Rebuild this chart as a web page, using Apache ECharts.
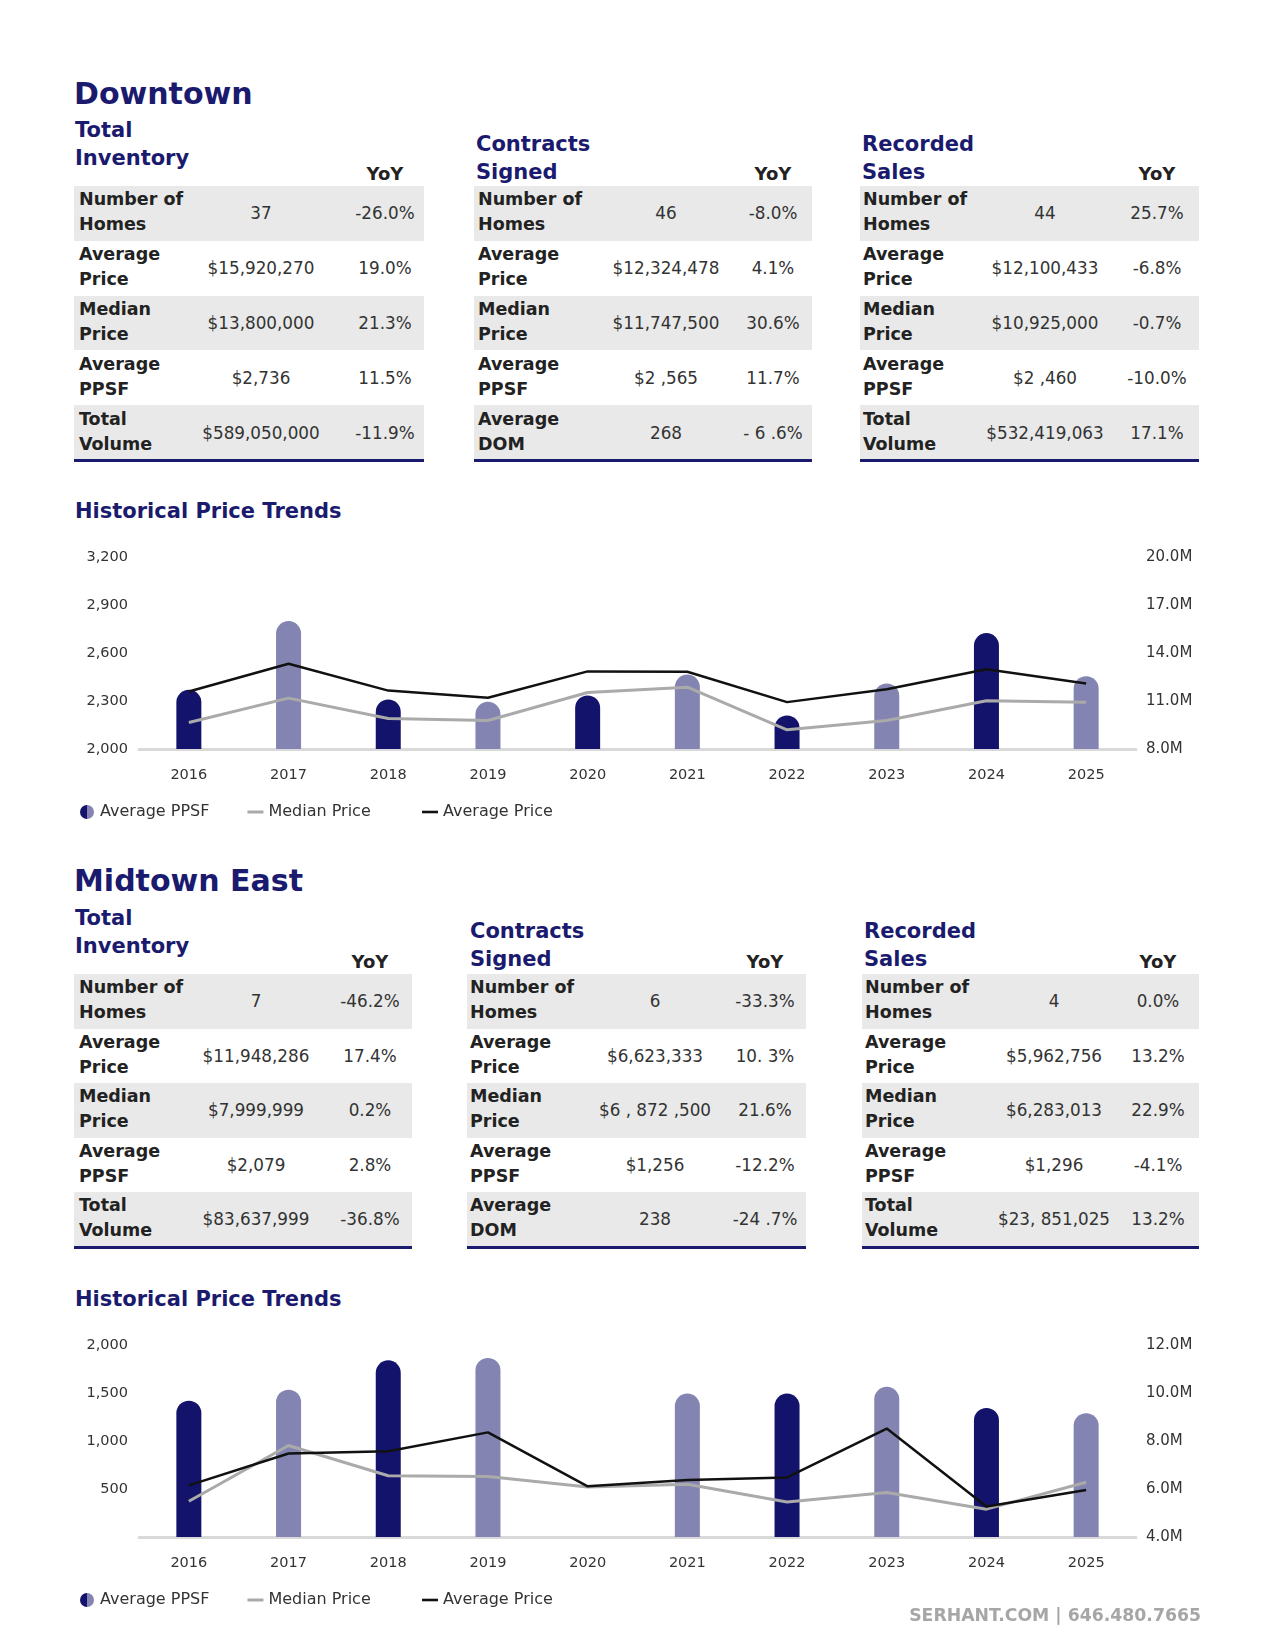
<!DOCTYPE html>
<html>
<head>
<meta charset="utf-8">
<script src="https://cdn.jsdelivr.net/npm/echarts@6/dist/echarts.min.js"></script>
<style>
  body { margin: 0; background: #fff; font-family: 'DejaVu Sans', sans-serif; }
  #page { position: relative; width: 1275px; height: 1650px; overflow: hidden; background: #fff; }
  .abs { position: absolute; white-space: nowrap; }
  .vc { transform: translateY(-50%); }
  .h1 { font-size: 30px; font-weight: bold; color: #1a1a6e; }
  .h2 { font-size: 21px; font-weight: bold; color: #1a1a6e; line-height: 28px; }
  .h3 { font-size: 21px; font-weight: bold; color: #1a1a6e; }
  .yoyh { font-size: 18px; font-weight: bold; color: #222; transform: translate(-50%, -50%); }
  .row { position: absolute; }
  .lbl { font-size: 17.5px; font-weight: bold; color: #222; line-height: 25px; }
  .val { font-size: 16.8px; color: #333; transform: translate(-50%, -50%); }
  .foot { font-size: 17.3px; font-weight: bold; color: #a6a6a6; transform: translate(-100%, -50%); }
  .chart { position: absolute; left: 0; width: 1275px; height: 300px; }
</style>
</head>
<body>
<div id="page">
  <div id="chart1" class="chart" style="top:531px"></div>
  <div id="chart2" class="chart" style="top:1319px"></div>
</div>
<script>
// ---------- Data ----------
const years = ['2016','2017','2018','2019','2020','2021','2022','2023','2024','2025'];

// Downtown chart
const dtPPSF     = [2370, 2800, 2310, 2295, 2335, 2465, 2210, 2410, 2725, 2455];
const dtMedPrice = [9660000, 11180000, 9910000, 9780000, 11530000, 11860000, 9200000, 9780000, 11010000, 10925000];
const dtAvgPrice = [11590000, 13330000, 11650000, 11200000, 12850000, 12830000, 10930000, 11740000, 12980000, 12100000];

// Midtown East chart
const mePPSF     = [1420, 1535, 1840, 1865, null, 1495, 1495, 1565, 1345, 1290];
const meMedPrice = [5490000, 7810000, 6550000, 6520000, 6080000, 6200000, 5460000, 5850000, 5160000, 6280000];
const meAvgPrice = [6150000, 7480000, 7570000, 8360000, 6110000, 6380000, 6480000, 8520000, 5270000, 5960000];

// Tick labels
const dtLeftTicks  = [2000, 2300, 2600, 2900, 3200];
const dtRightTicks = [8000000, 11000000, 14000000, 17000000, 20000000];
const meLeftTicks  = [0, 500, 1000, 1500, 2000];
const meRightTicks = [4000000, 6000000, 8000000, 10000000, 12000000];

const legendNames = ['Average PPSF', 'Median Price', 'Average Price'];

// Tables – Downtown
const dtInvTitle   = ['Total', 'Inventory'];
const dtInvLabels  = [['Number of','Homes'],['Average','Price'],['Median','Price'],['Average','PPSF'],['Total','Volume']];
const dtInvValues  = ['37', '$15,920,270', '$13,800,000', '$2,736', '$589,050,000'];
const dtInvYoY     = ['-26.0%', '19.0%', '21.3%', '11.5%', '-11.9%'];

const dtConTitle   = ['Contracts', 'Signed'];
const dtConLabels  = [['Number of','Homes'],['Average','Price'],['Median','Price'],['Average','PPSF'],['Average','DOM']];
const dtConValues  = ['46', '$12,324,478', '$11,747,500', '$2 ,565', '268'];
const dtConYoY     = ['-8.0%', '4.1%', '30.6%', '11.7%', '- 6 .6%'];

const dtRecTitle   = ['Recorded', 'Sales'];
const dtRecLabels  = [['Number of','Homes'],['Average','Price'],['Median','Price'],['Average','PPSF'],['Total','Volume']];
const dtRecValues  = ['44', '$12,100,433', '$10,925,000', '$2 ,460', '$532,419,063'];
const dtRecYoY     = ['25.7%', '-6.8%', '-0.7%', '-10.0%', '17.1%'];

// Tables – Midtown East
const meInvTitle   = ['Total', 'Inventory'];
const meInvLabels  = [['Number of','Homes'],['Average','Price'],['Median','Price'],['Average','PPSF'],['Total','Volume']];
const meInvValues  = ['7', '$11,948,286', '$7,999,999', '$2,079', '$83,637,999'];
const meInvYoY     = ['-46.2%', '17.4%', '0.2%', '2.8%', '-36.8%'];

const meConTitle   = ['Contracts', 'Signed'];
const meConLabels  = [['Number of','Homes'],['Average','Price'],['Median','Price'],['Average','PPSF'],['Average','DOM']];
const meConValues  = ['6', '$6,623,333', '$6 , 872 ,500', '$1,256', '238'];
const meConYoY     = ['-33.3%', '10. 3%', '21.6%', '-12.2%', '-24 .7%'];

const meRecTitle   = ['Recorded', 'Sales'];
const meRecLabels  = [['Number of','Homes'],['Average','Price'],['Median','Price'],['Average','PPSF'],['Total','Volume']];
const meRecValues  = ['4', '$5,962,756', '$6,283,013', '$1,296', '$23, 851,025'];
const meRecYoY     = ['0.0%', '13.2%', '22.9%', '-4.1%', '13.2%'];

// ---------- Styles ----------
const NAVY = '#1a1a6e';
const DARK = '#13136c';
const LIGHT = '#8484b2';
const GRAY_LINE = '#aaaaaa';
const BLACK_LINE = '#111111';
const ROW_BG = '#e8e9e8';
const FONT = "'DejaVu Sans', sans-serif";

const page = document.getElementById('page');

function addText(cls, text, x, y) {
  const d = document.createElement('div');
  d.className = 'abs ' + cls;
  d.style.left = x + 'px';
  d.style.top = y + 'px';
  d.innerHTML = text;
  page.appendChild(d);
  return d;
}

function renderTable(t) {
  addText('h2 vc', t.title.join('<br>'), t.titleX, t.titleY);
  addText('yoyh', 'YoY', t.left + t.yoyX, t.yoyHdrY);
  for (let i = 0; i < t.labels.length; i++) {
    const top = t.top + i * t.rowH;
    const r = document.createElement('div');
    r.className = 'row';
    r.style.left = t.left + 'px';
    r.style.top = top + 'px';
    r.style.width = t.width + 'px';
    r.style.height = t.rowH + 'px';
    r.style.background = (i % 2 === 0) ? ROW_BG : '#fff';
    page.appendChild(r);
    const cy = top + t.rowH / 2;
    addText('lbl vc', t.labels[i].join('<br>'), t.left + t.labelPad, cy - 1);
    addText('val', t.values[i], t.left + t.valX, cy);
    addText('val', t.yoy[i], t.left + t.yoyX, cy);
  }
  const b = document.createElement('div');
  b.className = 'row';
  b.style.left = t.left + 'px';
  b.style.top = (t.top + t.labels.length * t.rowH - 1) + 'px';
  b.style.width = t.width + 'px';
  b.style.height = '3px';
  b.style.background = NAVY;
  page.appendChild(b);
}

// Headings
addText('h1 vc', 'Downtown', 74, 93);
addText('h3 vc', 'Historical Price Trends', 75, 511);
addText('h1 vc', 'Midtown East', 74, 880);
addText('h3 vc', 'Historical Price Trends', 75, 1299);
addText('foot', 'SERHANT.COM | 646.480.7665', 1201, 1615);

// Downtown tables
renderTable({ title: dtInvTitle, titleX: 75, titleY: 143.5, left: 74, top: 186, width: 350, rowH: 54.8,
  labelPad: 5, valX: 187, yoyX: 311, yoyHdrY: 172.5, labels: dtInvLabels, values: dtInvValues, yoy: dtInvYoY });
renderTable({ title: dtConTitle, titleX: 476, titleY: 158, left: 474, top: 186, width: 338, rowH: 54.8,
  labelPad: 4, valX: 192, yoyX: 299, yoyHdrY: 172.5, labels: dtConLabels, values: dtConValues, yoy: dtConYoY });
renderTable({ title: dtRecTitle, titleX: 862, titleY: 158, left: 860, top: 186, width: 339, rowH: 54.8,
  labelPad: 3, valX: 185, yoyX: 297, yoyHdrY: 172.5, labels: dtRecLabels, values: dtRecValues, yoy: dtRecYoY });

// Midtown East tables
renderTable({ title: meInvTitle, titleX: 75, titleY: 931.5, left: 74, top: 974, width: 338, rowH: 54.5,
  labelPad: 5, valX: 182, yoyX: 296, yoyHdrY: 960.5, labels: meInvLabels, values: meInvValues, yoy: meInvYoY });
renderTable({ title: meConTitle, titleX: 470, titleY: 944.5, left: 467, top: 974, width: 339, rowH: 54.5,
  labelPad: 3, valX: 188, yoyX: 298, yoyHdrY: 960.5, labels: meConLabels, values: meConValues, yoy: meConYoY });
renderTable({ title: meRecTitle, titleX: 864, titleY: 944.5, left: 862, top: 974, width: 337, rowH: 54.5,
  labelPad: 3, valX: 192, yoyX: 296, yoyHdrY: 960.5, labels: meRecLabels, values: meRecValues, yoy: meRecYoY });

// ---------- Charts ----------
function fmtComma(v) { return v.toLocaleString('en-US'); }
function fmtM(v) { return (v / 1e6).toFixed(1) + 'M'; }

// legend icons: a thin horizontal bar inside a 16x14 box (corner points keep the box size)
const ICON_GRAY_LINE  = 'path://M0,0L0,0M0,5.5L16,5.5L16,8.5L0,8.5ZM16,14L16,14';
const ICON_BLACK_LINE = 'path://M0,0L0,0M0,5.7L16,5.7L16,8.3L0,8.3ZM16,14L16,14';

function buildOption(cfg) {
  const halfGrad = { type: 'linear', x: 0, y: 0, x2: 1, y2: 0,
    colorStops: [{ offset: 0, color: DARK }, { offset: 0.5, color: DARK }, { offset: 0.5, color: LIGHT }, { offset: 1, color: LIGHT }] };
  const lt = cfg.leftTicks, rt = cfg.rightTicks;
  const legendBase = {
    top: 268, itemWidth: 16, itemHeight: 14, itemGap: 38,
    textStyle: { fontSize: 16, color: '#333', fontFamily: FONT }
  };
  return {
    animation: false,
    textStyle: { fontFamily: FONT },
    grid: { left: 139, right: 139, top: 26, height: 192, containLabel: false },
    legend: [
      Object.assign({}, legendBase, {
        left: 75,
        data: [
          { name: legendNames[0], icon: 'circle', itemStyle: { color: halfGrad, borderWidth: 0 } },
          { name: legendNames[1], icon: ICON_GRAY_LINE, itemStyle: { color: GRAY_LINE, borderWidth: 0 } }
        ]
      }),
      Object.assign({}, legendBase, {
        left: 417,
        data: [
          { name: legendNames[2], icon: ICON_BLACK_LINE, itemStyle: { color: BLACK_LINE, borderWidth: 0 } }
        ]
      })
    ],
    xAxis: {
      type: 'category', data: years,
      axisLine: { show: true, lineStyle: { color: '#d9d9d9', width: 3 } },
      axisTick: { show: false },
      axisLabel: { color: '#333', fontSize: 14.5, margin: 19 }
    },
    yAxis: [
      { type: 'value', min: lt[0], max: lt[lt.length - 1], interval: lt[1] - lt[0],
        splitLine: { show: false }, axisLine: { show: false }, axisTick: { show: false },
        axisLabel: { color: '#333', fontSize: 14.5, margin: 11,
          formatter: v => (cfg.hideZero && v === 0) ? '' : fmtComma(v) } },
      { type: 'value', min: rt[0], max: rt[rt.length - 1], interval: rt[1] - rt[0],
        splitLine: { show: false }, axisLine: { show: false }, axisTick: { show: false },
        axisLabel: { color: '#333', fontSize: 15, margin: 10, formatter: fmtM } }
    ],
    series: [
      { name: legendNames[0], type: 'bar', data: cfg.ppsf, barWidth: 25, clip: true, yAxisIndex: 0,
        itemStyle: { color: p => (p.dataIndex % 2 === 0 ? DARK : LIGHT), borderRadius: [12.5, 12.5, 0, 0] } },
      { name: legendNames[1], type: 'line', data: cfg.med, yAxisIndex: 1, symbol: 'none',
        lineStyle: { color: GRAY_LINE, width: 3 }, itemStyle: { color: GRAY_LINE } },
      { name: legendNames[2], type: 'line', data: cfg.avg, yAxisIndex: 1, symbol: 'none',
        lineStyle: { color: BLACK_LINE, width: 2.5 }, itemStyle: { color: BLACK_LINE } }
    ]
  };
}

const c1 = echarts.init(document.getElementById('chart1'), null, { renderer: 'canvas' });
c1.setOption(buildOption({ ppsf: dtPPSF, med: dtMedPrice, avg: dtAvgPrice, leftTicks: dtLeftTicks, rightTicks: dtRightTicks, hideZero: false }));
const c2 = echarts.init(document.getElementById('chart2'), null, { renderer: 'canvas' });
c2.setOption(buildOption({ ppsf: mePPSF, med: meMedPrice, avg: meAvgPrice, leftTicks: meLeftTicks, rightTicks: meRightTicks, hideZero: true }));
</script>
</body>
</html>
